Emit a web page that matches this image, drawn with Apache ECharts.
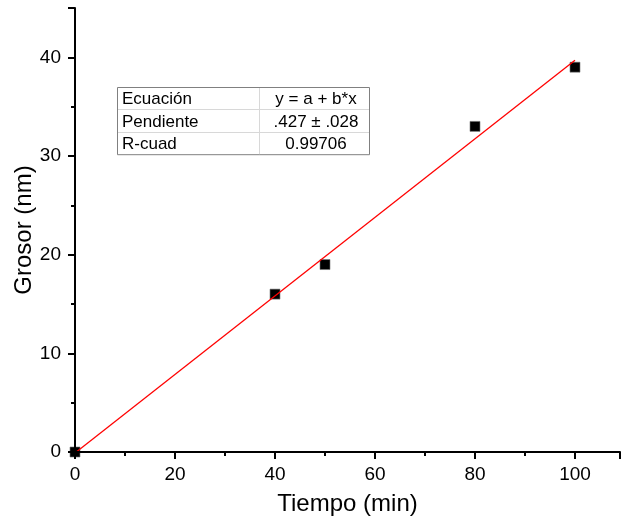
<!DOCTYPE html>
<html><head><meta charset="utf-8">
<script src="https://cdn.jsdelivr.net/npm/echarts@6/dist/echarts.min.js"></script>
<style>html,body{margin:0;padding:0;background:#fff}#c{width:621px;height:524px}</style>
</head><body><div id="c"></div>
<script>
var timeMin = [0, 40, 50, 80, 100];
var thickness = [0, 16, 19, 33, 39];
var fitX = [0, 100];
var fitY = [-0.1, 39.7];
var tableRows = [["Ecuación", "y = a + b*x"], ["Pendiente", ".427 ± .028"], ["R-cuad", "0.99706"]];

var chart = echarts.init(document.getElementById('c'));
var F = 'Liberation Sans, Arial, sans-serif';
var tx = 117, ty = 87, tw = 252, rh = 22.4, cw = 142;
var g = [{type:'rect', shape:{x:tx+0.5,y:ty+0.5,width:tw,height:rh*3}, style:{fill:'#fff',stroke:'#808080',lineWidth:1}, z:100}];
for (var i=1;i<3;i++) g.push({type:'line', shape:{x1:tx+1,y1:Math.round(ty+rh*i)+0.5,x2:tx+tw,y2:Math.round(ty+rh*i)+0.5}, style:{stroke:'#d8d8d8',lineWidth:1}, z:101});
g.push({type:'line', shape:{x1:tx+cw+0.5,y1:ty+1,x2:tx+cw+0.5,y2:ty+rh*3}, style:{stroke:'#d8d8d8',lineWidth:1}, z:101});
tableRows.forEach(function(r,i){
  g.push({type:'text', x:tx+5, y:ty+rh*i+rh/2+1.5, style:{text:r[0], font:'17px '+F, fill:'#000', verticalAlign:'middle'}, z:102});
  g.push({type:'text', x:tx+cw+(tw-cw)/2+2, y:ty+rh*i+rh/2+1.5, style:{text:r[1], font:'17px '+F, fill:'#000', align:'center', verticalAlign:'middle'}, z:102});
});
chart.setOption({
  animation:false,
  grid:{left:75,right:1,top:8,bottom:72,containLabel:false,outerBoundsMode:'none'},
  xAxis:{type:'value',min:0,max:109,interval:20,z:5,
    name:'Tiempo (min)',nameLocation:'middle',nameGap:40,nameMoveOverlap:false,
    nameTextStyle:{fontFamily:F,fontSize:24,color:'#000'},
    axisLine:{onZero:false,lineStyle:{color:'#000',width:2}},
    axisTick:{length:7,lineStyle:{color:'#000',width:2}},
    minorTick:{show:true,splitNumber:2,length:4,lineStyle:{color:'#000',width:2}},
    axisLabel:{fontFamily:F,fontSize:19,color:'#000',margin:13,showMaxLabel:false},
    splitLine:{show:false}},
  yAxis:{type:'value',min:0,max:45,interval:10,z:5,
    name:'Grosor (nm)',nameLocation:'middle',nameGap:39,nameRotate:90,nameMoveOverlap:false,
    nameTextStyle:{fontFamily:F,fontSize:24,color:'#000'},
    axisLine:{onZero:false,lineStyle:{color:'#000',width:2}},
    axisTick:{length:7,lineStyle:{color:'#000',width:2}},
    minorTick:{show:true,splitNumber:2,length:4,lineStyle:{color:'#000',width:2}},
    axisLabel:{fontFamily:F,fontSize:19,color:'#000',margin:14,showMaxLabel:false},
    splitLine:{show:false}},
  graphic:g,
  series:[
    {type:'scatter',data:timeMin.map(function(x,i){return [x,thickness[i]];}),symbol:'rect',symbolSize:10,
      itemStyle:{color:'#000',opacity:1,borderColor:'#777',borderWidth:0.6},z:1},
    {type:'line',data:fitX.map(function(x,i){return [x,fitY[i]];}),symbol:'none',
      lineStyle:{color:'#ff0000',width:1.3},z:2}
  ]
});
</script></body></html>
